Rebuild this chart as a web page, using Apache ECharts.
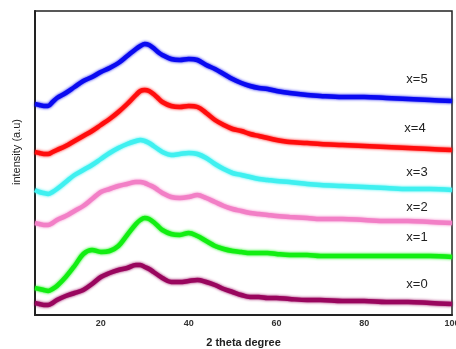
<!DOCTYPE html>
<html>
<head>
<meta charset="utf-8">
<script src="https://cdn.jsdelivr.net/npm/echarts@6/dist/echarts.min.js"></script>
<style>
  html, body { margin: 0; padding: 0; background: #fff; }
  #chart { width: 456px; height: 349px; }
</style>
</head>
<body>
<div id="chart"></div>
<script>
// 2 theta positions (degree)
const theta = [5, 6, 7, 8, 9, 10, 12, 14, 16, 18, 20, 22, 24, 26, 28, 29, 30, 31, 32, 33, 34, 36, 38, 40, 42, 44, 46, 48, 50, 52, 54, 56, 58, 60, 63, 67, 70, 75, 80, 85, 90, 95, 100];

// intensity (a.u.), stacked offsets as in the figure
const x5 = [211, 210, 209, 209, 213, 217, 222, 228, 234, 238, 243, 247, 252, 259, 266, 269, 271, 270, 267, 263, 260, 256, 255, 256, 255, 250, 246, 241, 236, 232, 229, 227, 226, 224, 222, 220, 219, 218, 218, 217, 216, 215, 214];
const x4 = [163, 162, 161, 161, 163, 165, 169, 174, 179, 184, 190, 196, 203, 211, 220, 224, 225, 224, 221, 217, 213, 209, 208, 209, 208, 202, 195, 190, 186, 184, 181, 179, 177, 175, 173, 172, 171, 170, 169, 168, 167, 166, 165];
const x3 = [125, 123, 122, 121, 123, 126, 133, 140, 145, 150, 156, 162, 167, 171, 174, 175, 174, 172, 169, 166, 163, 160, 161, 162, 161, 157, 151, 146, 142, 140, 138, 136, 135, 134, 133, 131, 130, 129, 128, 127, 126, 126, 125];
const x2 = [92, 91, 90, 90, 92, 95, 99, 104, 109, 116, 123, 126, 129, 131, 133, 133, 132, 130, 128, 125, 122, 118, 117, 118, 120, 117, 113, 109, 106, 104, 102, 101, 100, 99, 98, 97, 96, 96, 95, 94, 94, 93, 92];
const x1 = [27, 26, 25, 24, 26, 29, 38, 49, 61, 65, 63, 64, 69, 80, 91, 95, 97, 96, 93, 89, 85, 81, 80, 82, 79, 74, 69, 66, 64, 63, 62, 62, 62, 61, 60, 60, 59, 59, 59, 59, 59, 59, 58];
const x0 = [12, 11, 10, 10, 12, 15, 19, 22, 25, 31, 38, 42, 45, 47, 50, 50, 48, 46, 43, 40, 37, 33, 33, 34, 35, 33, 30, 26, 23, 20, 18, 18, 17, 17, 16, 15, 15, 14, 14, 13, 13, 12, 11];

const seriesNames = ['x=5', 'x=4', 'x=3', 'x=2', 'x=1', 'x=0'];
const seriesValues = [x5, x4, x3, x2, x1, x0];
const colors = ['#0a0af0', '#ff0d0d', '#3ff0f0', '#f27fc6', '#12ee12', '#99065e'];
const xTicks = [20, 40, 60, 80, 100];

// label placement (px)
const labelPos = [[417, 79], [415, 128], [417, 172], [417, 207], [417, 237], [417, 284]];

const chart = echarts.init(document.getElementById('chart'), null, { renderer: 'canvas' });

const option = {
  animation: false,
  backgroundColor: '#fff',
  grid: {
    left: 35, right: 4, top: 11, bottom: 34,
    outerBoundsMode: 'none',
    containLabel: false,
    show: true, borderColor: '#222', borderWidth: 1.5
  },
  xAxis: {
    type: 'value',
    min: 5, max: 100,
    name: '2 theta degree',
    nameLocation: 'middle',
    nameGap: 22,
    nameTextStyle: { fontFamily: 'Liberation Sans', fontWeight: 'bold', fontSize: 11, color: '#222' },
    axisLine: { show: true, onZero: false, lineStyle: { color: '#222', width: 2 } },
    axisTick: { show: false },
    splitLine: { show: false },
    axisLabel: {
      customValues: xTicks,
      margin: 4,
      fontFamily: 'Liberation Sans', fontWeight: 'bold', fontSize: 9, color: '#333'
    }
  },
  yAxis: {
    type: 'value',
    min: 0, max: 304,
    axisLine: { show: true, onZero: false, lineStyle: { color: '#222', width: 2 } },
    axisTick: { show: false },
    axisLabel: { show: false },
    splitLine: { show: false }
  },
  series: seriesValues.map((vals, i) => ({
    name: seriesNames[i],
    type: 'line',
    data: theta.map((t, j) => [t, vals[j]]),
    smooth: 0.35,
    showSymbol: false,
    lineStyle: {
      color: colors[i], width: 4.5,
      shadowColor: colors[i], shadowBlur: 3
    },
    z: 2 + i
  })),
  graphic: [
    {
      type: 'text', x: 17, y: 152, rotation: Math.PI / 2,
      style: {
        text: 'intensity (a.u)', align: 'center', verticalAlign: 'middle',
        font: '11px "Liberation Sans"', fill: '#222'
      }
    }
  ].concat(seriesNames.map((n, i) => ({
    type: 'text', x: labelPos[i][0], y: labelPos[i][1],
    style: {
      text: n, align: 'center', verticalAlign: 'middle',
      font: '13px "Liberation Sans"', fill: '#222'
    }
  })))
};

chart.setOption(option);
</script>
</body>
</html>
